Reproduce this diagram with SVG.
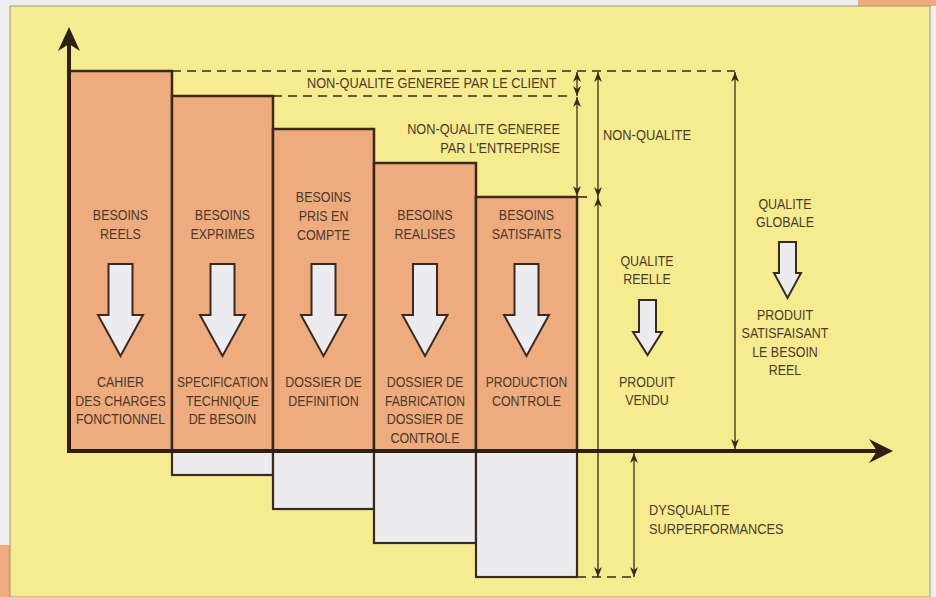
<svg xmlns="http://www.w3.org/2000/svg" width="936" height="597" viewBox="0 0 936 597">
<defs>
<style>
text{font-family:"Liberation Sans",Arial,sans-serif;font-size:15px;fill:#4a3a2c}
.c{text-anchor:middle}
.r{text-anchor:end}
.bar{fill:#eeab7d;stroke:#3a2a1e;stroke-width:2.5}
.under{fill:#ecebee;stroke:#3a2a1e;stroke-width:2.2}
.blk{fill:#ecebf0;stroke:#3a2a1e;stroke-width:2;stroke-linejoin:miter}
.dim{stroke:#3a2a1e;stroke-width:1.3;fill:none;marker-start:url(#ah);marker-end:url(#ah)}
.dash{stroke:#3a2a1e;stroke-width:1.6;stroke-dasharray:9 6;fill:none}
.axis{stroke:#2e2018;stroke-width:4;fill:none}
</style>
<marker id="ah" viewBox="0 0 10 8" refX="10" refY="4" markerWidth="10" markerHeight="8" markerUnits="userSpaceOnUse" orient="auto-start-reverse">
<path d="M0,0 L10,4 L0,8 L3,4 z" fill="#3a2a1e"/>
</marker>
</defs>
<rect x="0" y="0" width="936" height="597" fill="#efeeee"/>
<rect x="858" y="0" width="78" height="6" fill="#eeab7d"/>
<rect x="0" y="545" width="10" height="52" fill="#eeab7d"/>
<rect x="10" y="6" width="920" height="591" fill="#f6ec8f" stroke="#8a8570" stroke-width="0.8"/>

<g id="under-bars">
<rect class="under" x="172" y="451" width="101" height="24"/>
<rect class="under" x="273" y="451" width="101" height="58"/>
<rect class="under" x="374" y="451" width="102" height="92"/>
<rect class="under" x="476" y="451" width="101" height="126"/>
</g>

<g id="bar1">
<rect class="bar" x="69" y="71" width="103" height="380"/>
<text class="c" transform="translate(120.5,220) scale(0.83,1)">BESOINS</text>
<text class="c" transform="translate(120.5,239) scale(0.83,1)">REELS</text>
<path class="blk" d="M108.5,264 H132.5 V315 H143 L120.5,356 L98,315 H108.5 Z"/>
<text class="c" transform="translate(120.5,387) scale(0.83,1)">CAHIER</text>
<text class="c" transform="translate(120.5,406) scale(0.83,1)">DES CHARGES</text>
<text class="c" transform="translate(120.5,424) scale(0.83,1)">FONCTIONNEL</text>
</g>

<g id="bar2">
<rect class="bar" x="172" y="96" width="101" height="355"/>
<text class="c" transform="translate(222.5,220) scale(0.83,1)">BESOINS</text>
<text class="c" transform="translate(222.5,239) scale(0.83,1)">EXPRIMES</text>
<path class="blk" d="M210.5,264 H234.5 V315 H245 L222.5,356 L200,315 H210.5 Z"/>
<text class="c" transform="translate(222.5,387) scale(0.8,1)">SPECIFICATION</text>
<text class="c" transform="translate(222.5,406) scale(0.83,1)">TECHNIQUE</text>
<text class="c" transform="translate(222.5,424) scale(0.83,1)">DE BESOIN</text>
</g>

<g id="bar3">
<rect class="bar" x="273" y="129" width="101" height="322"/>
<text class="c" transform="translate(323.5,202) scale(0.83,1)">BESOINS</text>
<text class="c" transform="translate(323.5,221) scale(0.83,1)">PRIS EN</text>
<text class="c" transform="translate(323.5,240) scale(0.83,1)">COMPTE</text>
<path class="blk" d="M311.5,264 H335.5 V315 H346 L323.5,356 L301,315 H311.5 Z"/>
<text class="c" transform="translate(323.5,387) scale(0.83,1)">DOSSIER DE</text>
<text class="c" transform="translate(323.5,406) scale(0.83,1)">DEFINITION</text>
</g>

<g id="bar4">
<rect class="bar" x="374" y="163" width="102" height="288"/>
<text class="c" transform="translate(425,220) scale(0.83,1)">BESOINS</text>
<text class="c" transform="translate(425,239) scale(0.83,1)">REALISES</text>
<path class="blk" d="M413,264 H437 V315 H447.5 L425,356 L402.5,315 H413 Z"/>
<text class="c" transform="translate(425,387) scale(0.83,1)">DOSSIER DE</text>
<text class="c" transform="translate(425,406) scale(0.81,1)">FABRICATION</text>
<text class="c" transform="translate(425,424) scale(0.83,1)">DOSSIER DE</text>
<text class="c" transform="translate(425,443) scale(0.83,1)">CONTROLE</text>
</g>

<g id="bar5">
<rect class="bar" x="476" y="197" width="101" height="254"/>
<text class="c" transform="translate(526.5,220) scale(0.83,1)">BESOINS</text>
<text class="c" transform="translate(526.5,239) scale(0.83,1)">SATISFAITS</text>
<path class="blk" d="M514.5,264 H538.5 V315 H549 L526.5,356 L504,315 H514.5 Z"/>
<text class="c" transform="translate(526.5,387) scale(0.81,1)">PRODUCTION</text>
<text class="c" transform="translate(526.5,406) scale(0.83,1)">CONTROLE</text>
</g>

<g id="qualite-reelle">
<text class="c" transform="translate(647,266) scale(0.83,1)">QUALITE</text>
<text class="c" transform="translate(647,284) scale(0.83,1)">REELLE</text>
<path class="blk" d="M639,300 H656 V332 H662 L647.5,355 L633,332 H639 Z"/>
<text class="c" transform="translate(647,387) scale(0.83,1)">PRODUIT</text>
<text class="c" transform="translate(647,405) scale(0.83,1)">VENDU</text>
</g>

<g id="qualite-globale">
<text class="c" transform="translate(785,209) scale(0.83,1)">QUALITE</text>
<text class="c" transform="translate(785,227) scale(0.83,1)">GLOBALE</text>
<path class="blk" d="M779,242 H796 V273 H801 L787.5,298 L774,273 H779 Z"/>
<text class="c" transform="translate(785,320) scale(0.83,1)">PRODUIT</text>
<text class="c" transform="translate(785,338) scale(0.83,1)">SATISFAISANT</text>
<text class="c" transform="translate(785,357) scale(0.83,1)">LE BESOIN</text>
<text class="c" transform="translate(785,375) scale(0.83,1)">REEL</text>
</g>

<g id="labels">
<text transform="translate(307,88) scale(0.85,1)">NON-QUALITE GENEREE PAR LE CLIENT</text>
<text class="r" transform="translate(560,134) scale(0.85,1)">NON-QUALITE GENEREE</text>
<text class="r" transform="translate(560,153) scale(0.85,1)">PAR L'ENTREPRISE</text>
<text transform="translate(603,140) scale(0.86,1)">NON-QUALITE</text>
<text transform="translate(649,515) scale(0.85,1)">DYSQUALITE</text>
<text transform="translate(649,534) scale(0.85,1)">SURPERFORMANCES</text>
</g>

<g id="connectors">
<line class="dash" x1="172" y1="71" x2="735" y2="71"/>
<line class="dash" x1="273" y1="96" x2="570" y2="96"/>
<line class="dash" x1="577" y1="577" x2="634" y2="577"/>
<line x1="577" y1="197" x2="587" y2="197" stroke="#3a2a1e" stroke-width="1.6"/>
<line class="dim" x1="577" y1="72" x2="577" y2="96"/>
<line class="dim" x1="577" y1="97" x2="577" y2="196"/>
<line class="dim" x1="598" y1="72" x2="598" y2="197"/>
<line class="dim" x1="598" y1="197" x2="598" y2="577"/>
<line class="dim" x1="735" y1="72" x2="735" y2="449"/>
<line class="dim" x1="634" y1="453" x2="634" y2="577"/>
<line class="axis" x1="69" y1="453" x2="69" y2="44"/>
<path d="M69,27 L80,51 L69,44 L58,51 Z" fill="#2e2018"/>
<line class="axis" x1="67" y1="451" x2="878" y2="451"/>
<path d="M893,451 L869,439 L877,451 L869,463 Z" fill="#2e2018"/>
</g>
</svg>
